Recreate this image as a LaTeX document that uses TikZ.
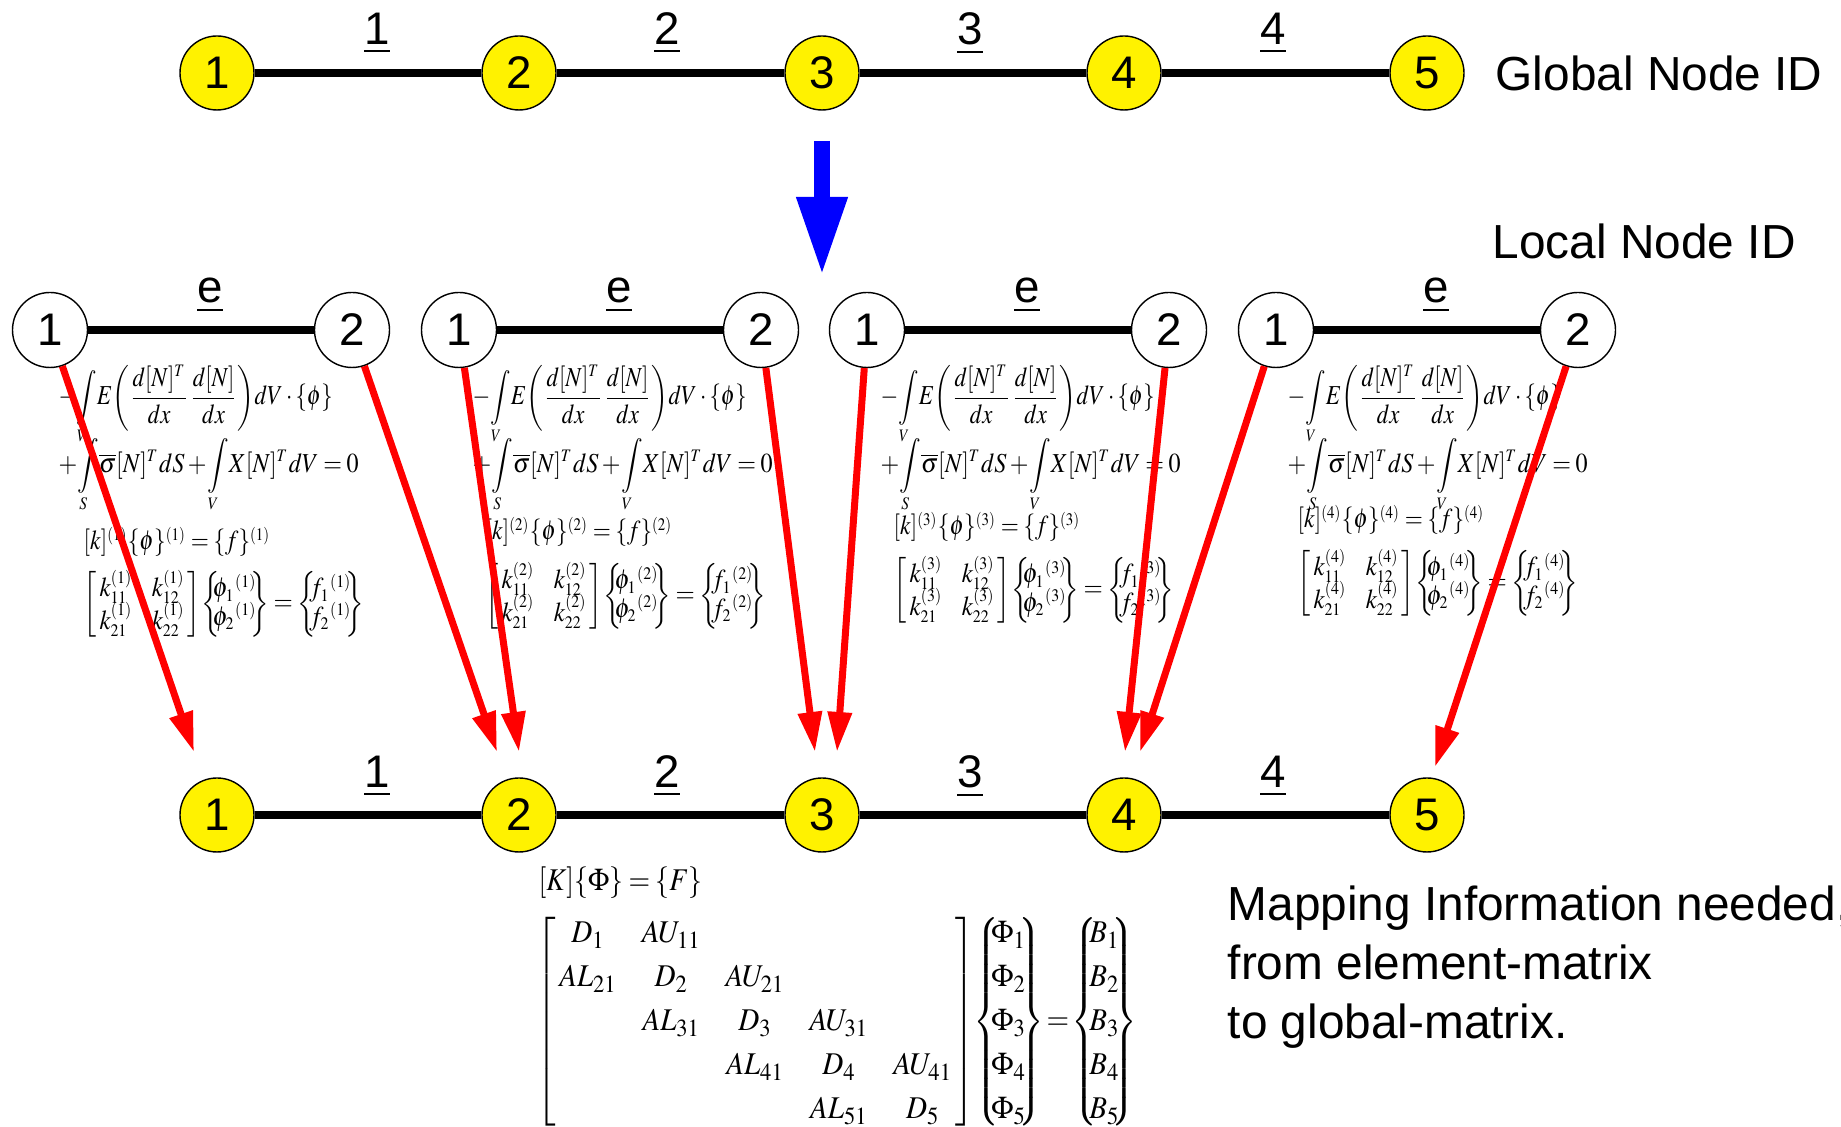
\documentclass[tikz,border=0pt]{standalone}
\usepackage{amsmath}
\usepackage{graphicx}
\usepackage{mathptmx}
\usepackage{fontspec}
\setmainfont{Liberation Serif}
\newfontfamily\arial{Liberation Sans}
\usetikzlibrary{arrows.meta}
\DeclareMathSizes{7.8}{7.8}{5}{4}

\newcommand{\tightmath}{\thinmuskip=2mu\medmuskip=2.5mu\thickmuskip=3.5mu\delimiterfactor=850}
\tikzset{
  gnode/.style={circle, draw, thin, fill=yellow, minimum size=.74cm, inner sep=0pt, font=\arial\fontsize{13}{13}\selectfont},
  lnode/.style={circle, draw, thin, fill=white, minimum size=.75cm, inner sep=0pt, font=\arial\fontsize{13}{13}\selectfont},
  bar/.style={line width=.08cm},
  idlab/.style={anchor=base, inner sep=0pt, font=\arial\fontsize{13}{13}\selectfont},
  note/.style={anchor=west, inner sep=0pt, align=left, font=\arial\fontsize{13.6}{16.7}\selectfont},
  eqn/.style={anchor=base west, inner sep=0pt, font=\fontsize{7.8}{9.4}\selectfont\tightmath},
  geqn/.style={inner sep=0pt, font=\fontsize{9}{10.8}\selectfont\tightmath},
  maparrow/.style={red, line width=.07cm, -{Triangle[length=.40cm,width=.23cm]}},
  downarrow/.style={blue, line width=.16cm, -{Triangle[length=.79cm,width=.47cm]}},
}

\newcommand{\curlyvec}[1]{\left\{\mkern-5mu\begin{array}{@{}c@{}}#1\end{array}\mkern-5mu\right\}}
\newcommand{\weakA}{\resizebox{2.74cm}{\height}{$\displaystyle -\!\int\limits_V\! E\!\left(\frac{d[N]^T}{dx}\frac{d[N]}{dx}\right)\!dV\cdot\{\phi\}$}}
\newcommand{\weakB}{\resizebox{3.00cm}{\height}{$\displaystyle +\!\int\limits_S\! \overline{\sigma}[N]^T dS+\!\int\limits_V\! X[N]^T dV=0$}}
\newcommand{\elemeq}[1]{\resizebox{1.87cm}{\height}{$[k]^{(#1)}\{\phi\}^{(#1)}=\{f\}^{(#1)}$}}
\newcommand{\elemmat}[1]{\resizebox{2.80cm}{\height}{$\arraycolsep=3pt\def\arraystretch{0.9}%
\left[\begin{array}{@{\,}cc@{\,}} k_{11}^{(#1)} & k_{12}^{(#1)}\\[-1pt] k_{21}^{(#1)} & k_{22}^{(#1)}\end{array}\right]\!%
\curlyvec{\phi_1{}^{(#1)}\\[-1pt] \phi_2{}^{(#1)}}=\curlyvec{f_1{}^{(#1)}\\[-1pt] f_2{}^{(#1)}}$}}
\newcommand{\globeq}{\resizebox{1.64cm}{\height}{$[K]\{\Phi\}=\{F\}$}}
\newcommand{\globmat}{\resizebox{6.01cm}{\height}{$\arraycolsep=3.8pt\def\arraystretch{1.16}%
\left[\begin{array}{@{\,}ccccc@{\,}}
D_1 & AU_{11} & & & \\
AL_{21} & D_2 & AU_{21} & & \\
 & AL_{31} & D_3 & AU_{31} & \\
 & & AL_{41} & D_4 & AU_{41}\\
 & & & AL_{51} & D_5
\end{array}\right]
\mkern-3mu\curlyvec{\Phi_1\\ \Phi_2\\ \Phi_3\\ \Phi_4\\ \Phi_5}
\mkern-2mu=\mkern-2mu\curlyvec{B_1\\ B_2\\ B_3\\ B_4\\ B_5}$}}

\begin{document}
\begin{tikzpicture}
	\clip (0,0) rectangle (18.41,-11.27) ;
		\node (g1)[gnode] at (2.17, -.73) {1} ;
		\node (g2)[gnode] at (5.19, -.73) {2} ;
		\node (g3)[gnode] at (8.22, -.73) {3} ;
		\node (g4)[gnode] at (11.24, -.73) {4} ;
		\node (g5)[gnode] at (14.27, -.73) {5} ;
		\node (ge1)[idlab] at (3.77, -.45) {\underline{1}} ;
		\node (ge2)[idlab] at (6.67, -.45) {\underline{2}} ;
		\node (ge3)[idlab] at (9.70, -.45) {\underline{3}} ;
		\node (ge4)[idlab] at (12.73, -.45) {\underline{4}} ;
		\node (gid)[note] at (14.95, -.73) {Global Node ID} ;
		\coordinate (bt) at (8.22, -1.41) ;
		\coordinate (bb) at (8.22, -2.76) ;
		\node (lid)[note] at (14.92, -2.41) {Local Node ID} ;
		\node (e1a)[lnode] at (.50, -3.30) {1} ;
		\node (e1b)[lnode] at (3.52, -3.30) {2} ;
		\node (e2a)[lnode] at (4.59, -3.30) {1} ;
		\node (e2b)[lnode] at (7.61, -3.30) {2} ;
		\node (e3a)[lnode] at (8.67, -3.30) {1} ;
		\node (e3b)[lnode] at (11.69, -3.30) {2} ;
		\node (e4a)[lnode] at (12.76, -3.30) {1} ;
		\node (e4b)[lnode] at (15.78, -3.30) {2} ;
		\node (le1)[idlab] at (2.10, -3.03) {\underline{e}} ;
		\node (le2)[idlab] at (6.19, -3.03) {\underline{e}} ;
		\node (le3)[idlab] at (10.27, -3.03) {\underline{e}} ;
		\node (le4)[idlab] at (14.36, -3.03) {\underline{e}} ;
		\node (w1a)[eqn] at (.58, -4.05) {\weakA} ;
		\node (w1b)[eqn] at (.58, -4.73) {\weakB} ;
		\node (k1)[eqn] at (.83, -5.50) {\elemeq{1}} ;
		\node (m1)[eqn] at (.83, -6.11) {\elemmat{1}} ;
		\node (w2a)[eqn] at (4.72, -4.05) {\weakA} ;
		\node (w2b)[eqn] at (4.72, -4.73) {\weakB} ;
		\node (k2)[eqn] at (4.85, -5.40) {\elemeq{2}} ;
		\node (m2)[eqn] at (4.85, -6.03) {\elemmat{2}} ;
		\node (w3a)[eqn] at (8.80, -4.05) {\weakA} ;
		\node (w3b)[eqn] at (8.80, -4.73) {\weakB} ;
		\node (k3)[eqn] at (8.93, -5.35) {\elemeq{3}} ;
		\node (m3)[eqn] at (8.93, -5.97) {\elemmat{3}} ;
		\node (w4a)[eqn] at (12.87, -4.05) {\weakA} ;
		\node (w4b)[eqn] at (12.87, -4.73) {\weakB} ;
		\node (k4)[eqn] at (12.97, -5.28) {\elemeq{4}} ;
		\node (m4)[eqn] at (12.97, -5.90) {\elemmat{4}} ;
		\node (n1)[gnode] at (2.17, -8.15) {1} ;
		\node (n2)[gnode] at (5.19, -8.15) {2} ;
		\node (n3)[gnode] at (8.22, -8.15) {3} ;
		\node (n4)[gnode] at (11.24, -8.15) {4} ;
		\node (n5)[gnode] at (14.27, -8.15) {5} ;
		\node (ne1)[idlab] at (3.77, -7.88) {\underline{1}} ;
		\node (ne2)[idlab] at (6.67, -7.88) {\underline{2}} ;
		\node (ne3)[idlab] at (9.70, -7.88) {\underline{3}} ;
		\node (ne4)[idlab] at (12.73, -7.88) {\underline{4}} ;
		\coordinate (t1a) at (1.94, -7.52) ;
		\coordinate (t1b) at (4.97, -7.52) ;
		\coordinate (t2a) at (5.19, -7.52) ;
		\coordinate (t2b) at (8.15, -7.52) ;
		\coordinate (t3a) at (8.37, -7.52) ;
		\coordinate (t3b) at (11.25, -7.52) ;
		\coordinate (t4a) at (11.40, -7.52) ;
		\coordinate (t4b) at (14.35, -7.67) ;
		\node (kg)[geqn, anchor=west] at (5.38, -8.83) {\globeq} ;
		\node (kmat)[geqn, anchor=north west] at (5.36, -9.11) {\globmat} ;
		\node (map)[note] at (12.27, -9.67) {Mapping Information needed,\\from element-matrix\\to global-matrix.} ;
	\draw[bar] (g1) -- (g2) ;
	\draw[bar] (g2) -- (g3) ;
	\draw[bar] (g3) -- (g4) ;
	\draw[bar] (g4) -- (g5) ;
	\draw[bar] (e1a) -- (e1b) ;
	\draw[bar] (e2a) -- (e2b) ;
	\draw[bar] (e3a) -- (e3b) ;
	\draw[bar] (e4a) -- (e4b) ;
	\draw[bar] (n1) -- (n2) ;
	\draw[bar] (n2) -- (n3) ;
	\draw[bar] (n3) -- (n4) ;
	\draw[bar] (n4) -- (n5) ;
	\draw[downarrow] (bt) -- (bb) ;
	\draw[maparrow] (e1a) -- (t1a) ;
	\draw[maparrow] (e1b) -- (t1b) ;
	\draw[maparrow] (e2a) -- (t2a) ;
	\draw[maparrow] (e2b) -- (t2b) ;
	\draw[maparrow] (e3a) -- (t3a) ;
	\draw[maparrow] (e3b) -- (t3b) ;
	\draw[maparrow] (e4a) -- (t4a) ;
	\draw[maparrow] (e4b) -- (t4b) ;
\end{tikzpicture}
\end{document}
